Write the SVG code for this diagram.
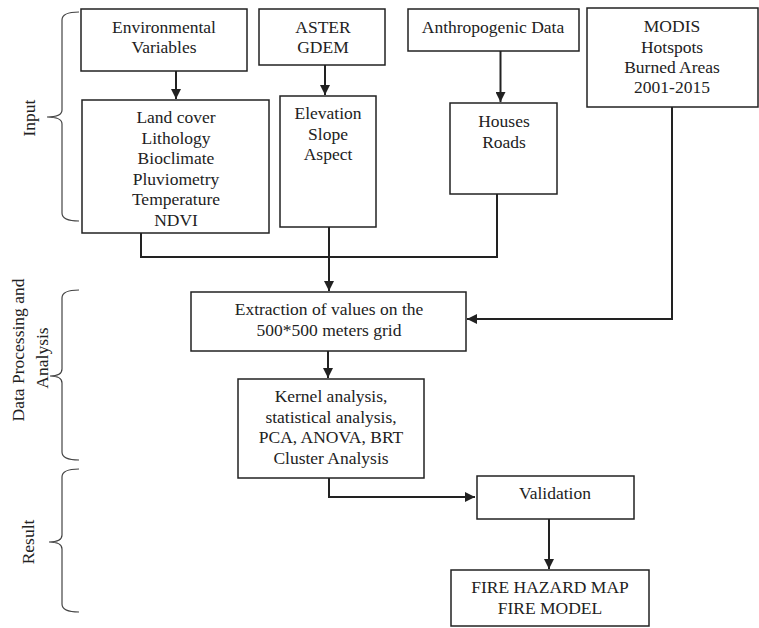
<svg xmlns="http://www.w3.org/2000/svg" width="759" height="628" viewBox="0 0 759 628">
<defs>
<style>
.box{fill:#fff;stroke:#222;stroke-width:1.5}
.t{font-family:"Liberation Serif","Times New Roman",serif;font-size:17.5px;fill:#222;text-anchor:middle}
.c{fill:none;stroke:#222;stroke-width:2}
.br{fill:none;stroke:#444;stroke-width:1.2}
</style>
<marker id="ah" viewBox="0 0 10 10" refX="10" refY="5" markerWidth="5" markerHeight="5" markerUnits="strokeWidth" orient="auto">
<path d="M0,0 L10,5 L0,10 Z" fill="#222"/>
</marker>
</defs>
<rect width="759" height="628" fill="#fff"/>

<g id="brackets">
<path class="br" d="M79,12 Q62,12 62,20 L62,110 Q62,117 47,117 Q62,117 62,124 L62,213 Q62,221 79,221"/>
<path class="br" d="M79,290 Q62,290 62,298 L62,369 Q62,376 50,376 Q62,376 62,383 L62,452 Q62,460 79,460"/>
<path class="br" d="M79,469 Q62,469 62,477 L62,535 Q62,542 49,542 Q62,542 62,549 L62,604 Q62,612 79,612"/>
<text class="t" transform="translate(35,118) rotate(-90)">Input</text>
<text class="t" transform="translate(24,350) rotate(-90)">Data Processing and</text>
<text class="t" transform="translate(48,358) rotate(-90)">Analysis</text>
<text class="t" transform="translate(34,542) rotate(-90)">Result</text>
</g>

<g id="env">
<rect class="box" x="81" y="9" width="166" height="62"/>
<text class="t" x="164" y="33">Environmental</text>
<text class="t" x="164" y="53">Variables</text>
</g>
<g id="aster">
<rect class="box" x="259" y="9" width="126" height="56"/>
<text class="t" x="323" y="33">ASTER</text>
<text class="t" x="323" y="53">GDEM</text>
</g>
<g id="anthro">
<rect class="box" x="408" y="9" width="171" height="42"/>
<text class="t" x="493" y="33">Anthropogenic Data</text>
</g>
<g id="modis">
<rect class="box" x="587" y="8" width="171" height="99"/>
<text class="t" x="672" y="32">MODIS</text>
<text class="t" x="672" y="52.5">Hotspots</text>
<text class="t" x="672" y="73">Burned Areas</text>
<text class="t" x="672" y="93">2001-2015</text>
</g>
<g id="landcover">
<rect class="box" x="82" y="100" width="187" height="133"/>
<text class="t" x="176" y="123">Land cover</text>
<text class="t" x="176" y="143.5">Lithology</text>
<text class="t" x="176" y="164">Bioclimate</text>
<text class="t" x="176" y="184.5">Pluviometry</text>
<text class="t" x="176" y="205">Temperature</text>
<text class="t" x="176" y="225.5">NDVI</text>
</g>
<g id="elevation">
<rect class="box" x="280" y="96" width="96" height="131"/>
<text class="t" x="328" y="119">Elevation</text>
<text class="t" x="328" y="139.5">Slope</text>
<text class="t" x="328" y="160">Aspect</text>
</g>
<g id="houses">
<rect class="box" x="450" y="103" width="107" height="91"/>
<text class="t" x="504" y="127">Houses</text>
<text class="t" x="504" y="147.5">Roads</text>
</g>
<g id="extraction">
<rect class="box" x="191" y="292" width="275" height="59"/>
<text class="t" x="329" y="315">Extraction of values on the</text>
<text class="t" x="329" y="335.5">500*500 meters grid</text>
</g>
<g id="kernel">
<rect class="box" x="238" y="379" width="186" height="99"/>
<text class="t" x="331" y="402">Kernel analysis,</text>
<text class="t" x="331" y="422.5">statistical analysis,</text>
<text class="t" x="331" y="443">PCA, ANOVA, BRT</text>
<text class="t" x="331" y="463.5">Cluster Analysis</text>
</g>
<g id="validation">
<rect class="box" x="477" y="476" width="157" height="43"/>
<text class="t" x="555" y="499">Validation</text>
</g>
<g id="fire">
<rect class="box" x="451" y="570" width="198" height="56"/>
<text class="t" x="550" y="593">FIRE HAZARD MAP</text>
<text class="t" x="550" y="613.5">FIRE MODEL</text>
</g>

<g id="connectors">
<path class="c" d="M176,71 L176,99" marker-end="url(#ah)"/>
<path class="c" d="M325,65 L325,95" marker-end="url(#ah)"/>
<path class="c" d="M500.5,51 L500.5,102" marker-end="url(#ah)"/>
<path class="c" d="M141,233 L141,257 L497,257 L497,194"/>
<path class="c" d="M329,227 L329,291" marker-end="url(#ah)"/>
<path class="c" d="M672,107 L672,319 L467,319" marker-end="url(#ah)"/>
<path class="c" d="M328,351 L328,378" marker-end="url(#ah)"/>
<path class="c" d="M329,478 L329,497 L475,497" marker-end="url(#ah)"/>
<path class="c" d="M549,519 L549,569" marker-end="url(#ah)"/>
</g>
</svg>
